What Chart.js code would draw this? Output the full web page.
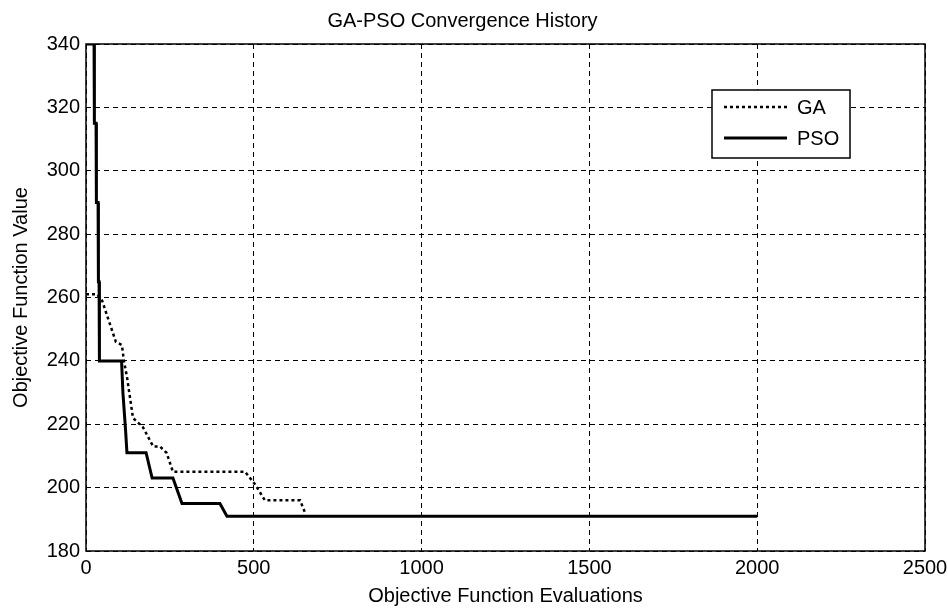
<!DOCTYPE html>
<html>
<head>
<meta charset="utf-8">
<script src="https://cdn.jsdelivr.net/npm/chart.js@4"></script>
<style>
  html, body { margin: 0; padding: 0; background: #fff; }
  #wrap { width: 948px; height: 609px; }
</style>
</head>
<body>
<div id="wrap"><canvas id="convChart" width="948" height="609"></canvas></div>
<script>
const GA_EVALS = [0, 33, 48, 89, 107, 113, 122, 140, 170, 200, 220, 240, 259, 474, 504, 533, 638, 653];
const GA_VALUES = [261, 261, 259, 246, 245, 240, 235, 222, 219, 213, 213, 211, 205, 205, 201, 196, 196, 192];

const PSO_EVALS = [0, 24, 25, 30, 31, 36, 37, 39, 40, 106, 110, 118, 122, 179, 197, 259, 286, 399, 420, 2000];
const PSO_VALUES = [340, 340, 315, 315, 290, 290, 265, 265, 240, 240, 230, 218, 211, 211, 203, 203, 195, 195, 191, 191];

const X_TICKS = [0, 500, 1000, 1500, 2000, 2500];
const Y_TICKS = [180, 200, 220, 240, 260, 280, 300, 320, 340];

const FONT = "'Liberation Sans', Arial, sans-serif";
const FONT_SIZE = 20;

function toPoints(xs, ys) {
    return xs.map((x, i) => ({ x: x, y: ys[i] }));
}

// draws the box around the axes and the matlab style legend
const frameAndLegend = {
    id: 'frameAndLegend',
    afterDraw(chart) {
        const ctx = chart.ctx;
        const a = chart.chartArea;
        ctx.save();
        ctx.strokeStyle = '#000';
        ctx.lineWidth = 1.5;
        ctx.setLineDash([]);
        ctx.strokeRect(a.left, a.top, a.right - a.left, a.bottom - a.top);

        // legend box
        const bx = 712, by = 90, bw = 138, bh = 68;
        ctx.fillStyle = '#fff';
        ctx.fillRect(bx, by, bw, bh);
        ctx.lineWidth = 1.5;
        ctx.strokeRect(bx, by, bw, bh);

        ctx.font = FONT_SIZE + 'px ' + FONT;
        ctx.textBaseline = 'middle';
        ctx.textAlign = 'left';
        chart.data.datasets.forEach((ds, i) => {
            const y = by + 17 + i * 31;
            ctx.strokeStyle = ds.borderColor;
            ctx.lineWidth = ds.borderWidth;
            ctx.setLineDash(ds.borderDash || []);
            ctx.beginPath();
            ctx.moveTo(bx + 12, y);
            ctx.lineTo(bx + 75, y);
            ctx.stroke();
            ctx.setLineDash([]);
            ctx.fillStyle = '#000';
            ctx.fillText(ds.label, bx + 85, y + 1);
        });
        ctx.restore();
    }
};

const configConvChart = {
    type: 'line',
    data: {
        datasets: [
            {
                label: 'GA',
                data: toPoints(GA_EVALS, GA_VALUES),
                borderColor: '#000',
                borderWidth: 2.5,
                borderDash: [3, 3],
                pointRadius: 0,
                tension: 0
            },
            {
                label: 'PSO',
                data: toPoints(PSO_EVALS, PSO_VALUES),
                borderColor: '#000',
                borderWidth: 3,
                pointRadius: 0,
                tension: 0
            }
        ]
    },
    options: {
        responsive: false,
        animation: false,
        layout: { padding: { left: 0, right: 23, top: 0, bottom: 0 } },
        plugins: {
            legend: { display: false },
            tooltip: { enabled: false },
            title: {
                display: true,
                text: 'GA-PSO Convergence History',
                color: '#000',
                font: { family: FONT, size: FONT_SIZE, weight: 'normal' },
                padding: { top: 9, bottom: 11 }
            }
        },
        scales: {
            x: {
                type: 'linear',
                min: 0,
                max: 2500,
                afterBuildTicks(scale) { scale.ticks = X_TICKS.map(v => ({ value: v })); },
                afterFit(scale) {
                    scale.height = 58;
                    scale.paddingLeft = 0;
                    scale.paddingRight = 0;
                },
                ticks: {
                    color: '#000', padding: 5, maxRotation: 0,
                    font: { family: FONT, size: FONT_SIZE },
                    callback: v => String(v)
                },
                grid: { color: '#000', lineWidth: 1, drawTicks: false },
                border: { display: false, dash: [5, 4] },
                title: {
                    display: true,
                    text: 'Objective Function Evaluations',
                    color: '#000',
                    font: { family: FONT, size: FONT_SIZE },
                    padding: { top: 0, bottom: 1 }
                }
            },
            y: {
                min: 180,
                max: 340,
                afterBuildTicks(scale) { scale.ticks = Y_TICKS.map(v => ({ value: v })); },
                afterFit(scale) { scale.width = 86; },
                ticks: {
                    color: '#000', padding: 6,
                    font: { family: FONT, size: FONT_SIZE },
                    callback: v => String(v)
                },
                grid: { color: '#000', lineWidth: 1, drawTicks: false },
                border: { display: false, dash: [5, 4] },
                title: {
                    display: true,
                    text: 'Objective Function Value',
                    color: '#000',
                    font: { family: FONT, size: FONT_SIZE },
                    padding: { top: 9, bottom: 0 }
                }
            }
        }
    },
    plugins: [frameAndLegend]
};

var convChart = new Chart(document.getElementById('convChart'), configConvChart);
</script>
</body>
</html>
